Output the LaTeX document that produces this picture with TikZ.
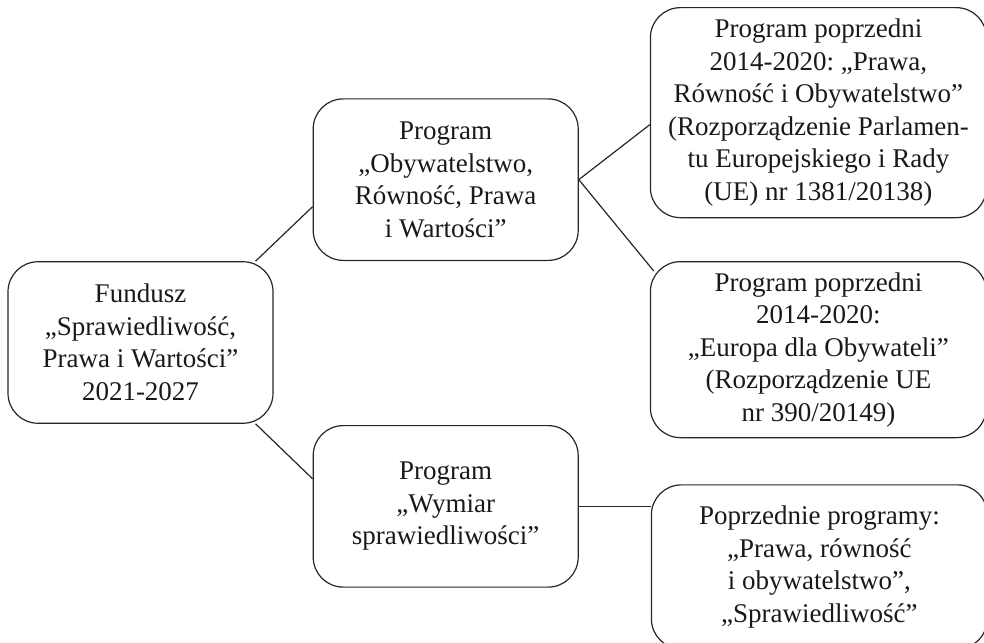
\documentclass[tikz,border=0pt]{standalone}
\usepackage{fontspec}
\setmainfont{Liberation Serif}
\usepackage{tikz}
\usepackage{xcolor}
\usetikzlibrary{positioning, calc}
\tikzstyle{link} = [line width=0.6pt, draw=black!85]
\frenchspacing

\begin{document}
\begin{tikzpicture}[node distance=1.5cm]
\tikzstyle{prog} = [rectangle, rounded corners=15pt, minimum width=132.5pt, minimum height=80.75pt, align=center, draw=black!85, line width=0.6pt, font=\fontsize{13.5}{16.25}\selectfont, text=black!90, inner sep=0pt]
\tikzstyle{prev} = [prog, minimum width=168pt]

\clip (0,0) rectangle (492pt,-321pt);
\useasboundingbox (0,0) rectangle (492pt,-321pt);

\node (fund) [prog] at (70.25pt,-171.25pt) {Fundusz\\„Sprawiedliwość,\\Prawa i Wartości”\\2021-2027};
\node (obyw) [prog, above right=40.75pt and 19.5pt of fund.east] {Program\\„Obywatelstwo,\\Równość, Prawa\\i Wartości”};
\node (wymiar) [prog, below right=41.25pt and 19.5pt of fund.east] {Program\\„Wymiar\\sprawiedliwości”};
\node (poprz1) [prev, minimum height=105pt, right=35.5pt of obyw, yshift=33.5pt] {Program poprzedni\\2014-2020: „Prawa,\\Równość i Obywatelstwo”\\(Rozporządzenie Parlamen-\\tu Europejskiego i Rady\\(UE) nr 1381/20138)};
\node (poprz2) [prev, minimum height=88pt, right=35.5pt of obyw, yshift=-85pt] {Program poprzedni\\2014-2020:\\„Europa dla Obywateli”\\(Rozporządzenie UE\\nr 390/20149)};
\node (poprz3) [prev, minimum height=82pt, right=36pt of wymiar, yshift=-30.25pt] {Poprzednie programy:\\„Prawa, równość\\i obywatelstwo”,\\„Sprawiedliwość”};

\draw [link] ($(fund.north east)+(-9pt,0)$) -- ($(obyw.west)+(0,-13.5pt)$);
\draw [link] ($(fund.south east)+(-9pt,0)$) -- ($(wymiar.west)+(0,13.75pt)$);
\draw [link] (obyw.east) -- ($(poprz1.west)+(0,-6pt)$);
\draw [link] (obyw.east) -- ($(poprz2.north west)+(2pt,-5pt)$);
\draw [link] (wymiar.east) -- (wymiar.east -| poprz3.west);

\end{tikzpicture}
\end{document}
